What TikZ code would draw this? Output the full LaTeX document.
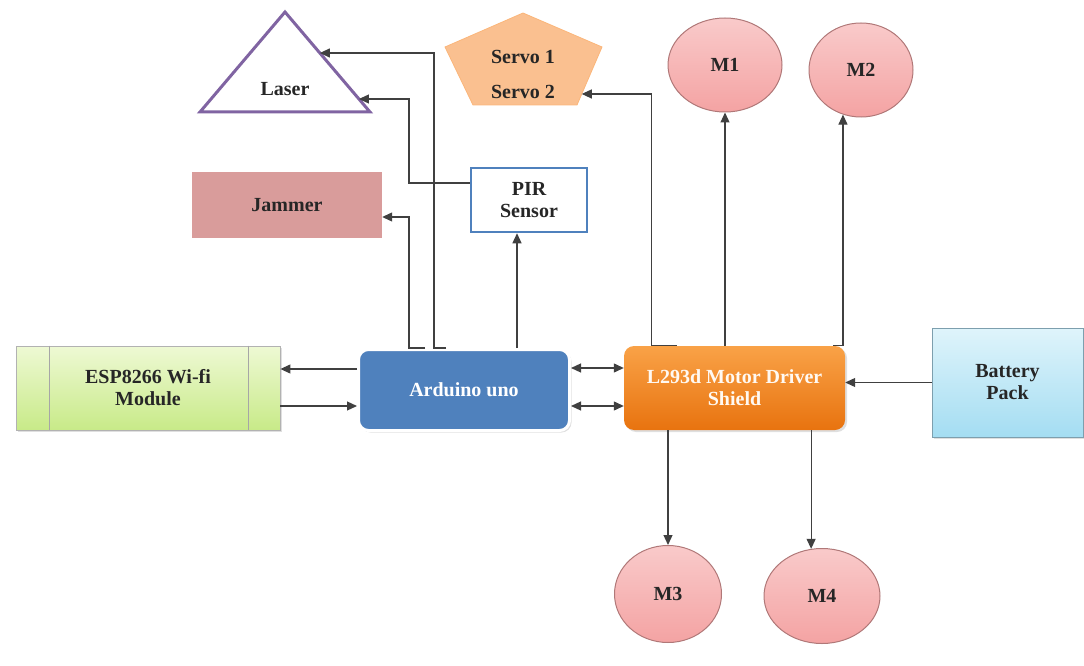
\documentclass[tikz,border=0pt]{standalone}
\usepackage{fontspec}
\setmainfont{Liberation Serif}
\usepackage{xcolor}
\definecolor{ardcolor}{HTML}{4F81BD}
\definecolor{drvtop}{HTML}{F9A247}
\definecolor{drvbot}{HTML}{E8730F}
\definecolor{esptop}{HTML}{EEF9D4}
\definecolor{espbot}{HTML}{C8EA88}
\definecolor{battop}{HTML}{DFF4FB}
\definecolor{batbot}{HTML}{A4DDF2}
\definecolor{motortop}{HTML}{F9CACA}
\definecolor{motorbot}{HTML}{F4A3A3}
\definecolor{motorline}{HTML}{B07878}
\definecolor{lasercolor}{HTML}{8064A2}
\definecolor{servocolor}{HTML}{FAC090}
\definecolor{jamcolor}{HTML}{D99C9B}
\usepackage{tikz}
\usetikzlibrary{positioning, calc, arrows.meta, shapes.geometric, shadows}

\begin{document}
\begin{tikzpicture}[x=1pt, y=-1pt,
  txt/.style={font=\fontsize{20}{22}\selectfont\bfseries, text=black!85, align=center},
  box/.style={txt, rectangle, inner sep=0pt, minimum width=#1},
  shade/.style={drop shadow={shadow xshift=2pt, shadow yshift=-2pt, opacity=0.25}},
  motor/.style={txt, ellipse, draw=motorline, line width=1pt, inner sep=0pt,
    top color=motortop, bottom color=motorbot},
  arr/.style={-{Triangle[length=10pt, width=9pt]}, line width=1.2pt, draw=black!75},
  biarr/.style={arr, {Triangle[length=10pt, width=9pt]}-{Triangle[length=10pt, width=9pt]}},
]
  \useasboundingbox (0,0) rectangle (1084,666);

  % laser and servo outlines
  \coordinate (lasertop) at (285,12);
  \coordinate (laserleft) at (200,112);
  \coordinate (laserright) at (370,112);
  \draw[lasercolor, line width=3pt, fill=white, line join=miter]
    (lasertop) -- (laserleft) -- (laserright) -- cycle;
  \node[txt] (laser) at (285,89) {Laser};

  \coordinate (servotop) at (523,13);
  \coordinate (servoL) at (445,47);
  \coordinate (servoBL) at (473,105);
  \coordinate (servoBR) at (577,105);
  \coordinate (servoR) at (602,47);
  \draw[servocolor!85!orange, fill=servocolor, line width=0.8pt]
    (servotop) -- (servoL) -- (servoBL) -- (servoBR) -- (servoR) -- cycle;
  \node[txt] (servo) at (523,74) {Servo 1\\[13pt]Servo 2};

  % blocks
  \node[box=190pt, minimum height=66pt, fill=jamcolor] (jam) at (287,205) {Jammer};
  \node[box=116pt, minimum height=64pt, draw=ardcolor, line width=2.5pt, fill=white]
    (pir) at (529,200) {PIR\\Sensor};
  \node[box=264pt, minimum height=84pt, draw=gray!60, line width=0.8pt,
    top color=esptop, bottom color=espbot, shade] (esp) at (148,388) {ESP8266 Wi-fi\\Module};
  \draw[gray!70, line width=0.8pt] ([xshift=34pt]esp.north west) -- ([xshift=34pt]esp.south west);
  \draw[gray!70, line width=0.8pt] ([xshift=-32pt]esp.north east) -- ([xshift=-32pt]esp.south east);
  \node[box=211pt, minimum height=81pt, rounded corners=10pt, fill=ardcolor, draw=white,
    line width=3pt, text=white, shade] (ard) at (464,390) {Arduino uno};
  \node[box=221pt, minimum height=84pt, rounded corners=10pt, top color=drvtop,
    bottom color=drvbot, text=white!95!orange, shade] (drv) at (734.5,388) {L293d Motor Driver\\Shield};
  \node[box=151pt, minimum height=109pt, draw=cyan!30!gray, line width=0.8pt,
    top color=battop, bottom color=batbot, shade] (bat) at (1007.5,382.5) {Battery\\Pack};

  \node[motor, minimum width=114pt, minimum height=94pt] (m1) at (725,65) {M1};
  \node[motor, minimum width=104pt, minimum height=94pt] (m2) at (861,70) {M2};
  \node[motor, minimum width=107pt, minimum height=97pt] (m3) at (668,594) {M3};
  \node[motor, minimum width=116pt, minimum height=95pt] (m4) at (822,596) {M4};

  % connectors
  \coordinate (laserin1) at ($(lasertop)!0.41!(laserright)$);
  \coordinate (laserin2) at ($(lasertop)!0.87!(laserright)$);
  \coordinate (servoin) at ($(servoR)!0.81!(servoBR)$);
  \coordinate (ardpin) at ([xshift=52pt]ard.north west);
  \coordinate (pirin) at ([xshift=-12pt]pir.south);
  \coordinate (espout) at ([yshift=21pt]ard.west);
  \coordinate (espin) at ([yshift=-18pt]esp.east);
  \coordinate (lnk1) at ([yshift=22pt]ard.east);
  \coordinate (lnk2) at ([yshift=-16pt]ard.east);
  \coordinate (m2in) at (m2.248);
  \coordinate (m4in) at (m4.103);

  \draw[arr] ([xshift=68pt]ard.north west) -- (ardpin) |- ([yshift=-12pt]jam.east);
  \draw[arr] ([xshift=89pt]ard.north west) -- ([xshift=77pt]ard.north west) |- (laserin1);
  \draw[arr] ([yshift=17pt]pir.west) -| (ardpin |- laserin2) -- (laserin2);
  \draw[arr] (ard.north -| pirin) -- (pirin);
  \draw[arr] (espout) -- (espout -| esp.east);
  \draw[arr] (espin) -- (espin -| ard.west);
  \draw[biarr] (lnk1) -- (lnk1 -| drv.west);
  \draw[biarr] (lnk2) -- (lnk2 -| drv.west);
  \draw[arr] (bat.west) -- (bat.west -| drv.east);
  \draw[arr] ([xshift=53pt]drv.north west) -- ([xshift=28pt]drv.north west) |- (servoin);
  \draw[arr] (drv.north -| m1.south) -- (m1.south);
  \draw[arr] ([xshift=-12pt]drv.north east) -- (drv.north east -| m2in) -- (m2in);
  \draw[arr] (drv.south -| m3.north) -- (m3.north);
  \draw[arr] (drv.south -| m4in) -- (m4in);
\end{tikzpicture}
\end{document}
